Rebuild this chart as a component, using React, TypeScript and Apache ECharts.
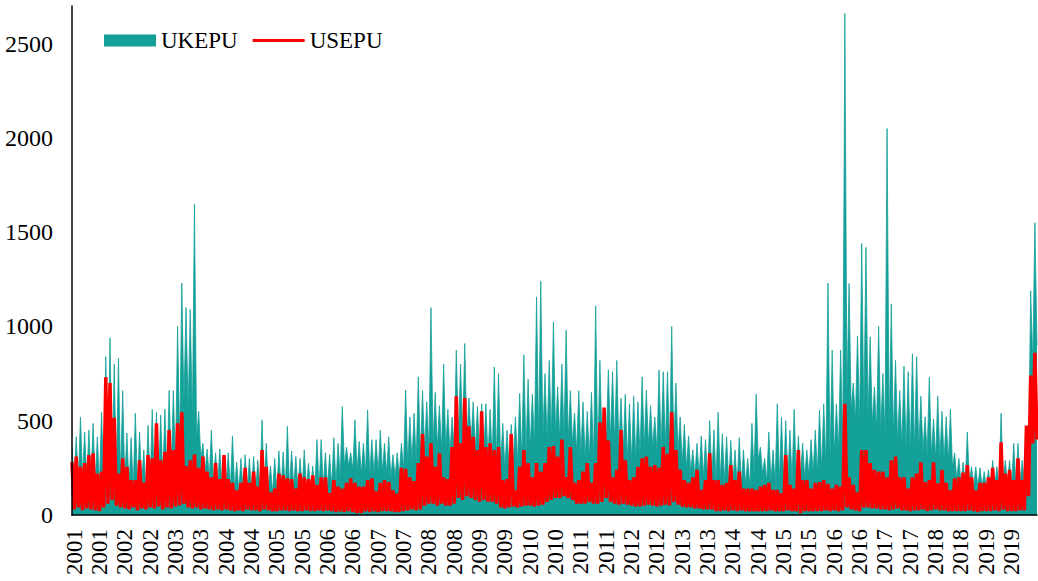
import { useEffect, useRef } from "react";
import * as echarts from "echarts";

// Axis tick labels (one per half-year block)
const halfYearLabels = [
  "2001", "2001", "2002", "2002", "2003", "2003", "2004", "2004", "2005", "2005",
  "2006", "2006", "2007", "2007", "2008", "2008", "2009", "2009", "2010", "2010",
  "2011", "2011", "2012", "2012", "2013", "2013", "2014", "2014", "2015", "2015",
  "2016", "2016", "2017", "2017", "2018", "2018", "2019", "2019",
];

// UKEPU: per time slot, the spike high and the trough low
const ukHigh = [
  360, 415, 520, 440, 450, 486, 415, 545, 840, 940, 800, 830, 660, 435, 410, 540, 440, 345, 475, 560, 545, 530, 560, 660, 660, 1000,
  1230, 1100, 1090, 1650, 550, 380, 350, 450, 330, 350, 300, 330, 420, 280, 300, 320, 300, 310, 290, 505, 380, 260, 300, 340, 335,
  470, 340, 310, 300, 345, 275, 260, 400, 400, 330, 320, 410, 380, 575, 360, 330, 505, 390, 380, 557, 400, 400, 450, 380, 415,
  320, 330, 380, 663, 520, 540, 733, 660, 600, 1100, 650, 580, 800, 560, 520, 875, 800, 910, 620, 600, 575, 590, 590, 560, 785,
  750, 486, 450, 480, 520, 645, 850, 720, 640, 1157, 1240, 750, 820, 1025, 680, 800, 980, 660, 540, 660, 600, 550, 650, 1110, 820,
  560, 770, 760, 820, 620, 640, 590, 630, 600, 733, 660, 580, 520, 770, 760, 760, 1000, 700, 520, 480, 420, 345, 380, 420, 400,
  500, 450, 545, 430, 415, 395, 345, 410, 345, 300, 486, 640, 360, 300, 440, 345, 590, 520, 500, 450, 560, 420, 380, 345, 400,
  450, 557, 590, 1230, 875, 590, 875, 2660, 1228, 700, 950, 1440, 1420, 945, 680, 1000, 750, 2050, 1120, 820, 660, 790, 760, 855, 840,
  630, 521, 730, 510, 630, 550, 521, 560, 330, 300, 280, 440, 256, 256, 250, 230, 240, 290, 256, 540, 290, 290, 380, 380, 290, 420, 1190, 1550,
];
const ukLow = [
  180, 160, 200, 180, 180, 170, 160, 180, 210, 230, 210, 200, 180, 150, 140, 150, 160, 130, 160, 150, 180, 200, 210, 230, 260, 380,
  600, 560, 500, 400, 300, 220, 190, 180, 160, 150, 150, 140, 140, 125, 130, 130, 125, 130, 125, 140, 140, 115, 125, 130, 130,
  140, 150, 140, 140, 140, 130, 130, 140, 150, 150, 150, 160, 200, 260, 260, 240, 230, 220, 220, 210, 220, 220, 230, 220, 200,
  200, 210, 240, 270, 280, 280, 300, 340, 350, 380, 360, 340, 350, 330, 340, 400, 420, 400, 380, 340, 320, 300, 300, 290, 300,
  270, 250, 250, 270, 280, 300, 330, 350, 370, 400, 420, 400, 420, 430, 400, 410, 400, 380, 340, 320, 300, 300, 290, 300, 380,
  380, 400, 380, 360, 320, 290, 280, 290, 320, 360, 370, 360, 340, 350, 360, 350, 370, 340, 280, 250, 230, 210, 200, 200, 190,
  200, 180, 190, 180, 170, 170, 160, 160, 160, 150, 220, 290, 220, 180, 180, 170, 180, 180, 190, 180, 190, 200, 200, 210, 220,
  220, 240, 260, 300, 320, 340, 380, 650, 560, 500, 480, 520, 520, 480, 450, 440, 420, 440, 420, 390, 360, 350, 340, 340, 350,
  340, 320, 320, 300, 300, 290, 280, 250, 190, 170, 160, 170, 150, 150, 150, 140, 140, 150, 150, 170, 160, 160, 160, 170, 170, 300, 800, 900,
];

// USEPU: per time slot, the high and the low
const usHigh = [
  280, 310, 255, 275, 318, 327, 220, 230, 730, 700, 515, 220, 300, 255, 185, 185, 290, 170, 318, 300, 486, 290, 335, 450, 345, 486,
  545, 260, 290, 320, 250, 310, 230, 200, 275, 190, 318, 190, 170, 130, 170, 250, 170, 230, 150, 345, 255, 120, 140, 220, 210,
  195, 190, 140, 220, 200, 190, 210, 160, 200, 200, 115, 185, 150, 140, 170, 195, 170, 150, 150, 185, 195, 125, 170, 185, 175,
  130, 115, 250, 245, 200, 180, 275, 430, 310, 380, 255, 327, 200, 190, 360, 630, 380, 620, 470, 415, 345, 550, 360, 380, 345,
  360, 185, 190, 430, 130, 255, 345, 275, 200, 275, 230, 275, 360, 365, 310, 400, 200, 360, 170, 185, 230, 275, 170, 275, 490,
  570, 395, 200, 240, 450, 290, 185, 200, 255, 300, 310, 255, 265, 250, 360, 325, 545, 345, 240, 185, 170, 200, 240, 133, 185,
  327, 185, 185, 160, 170, 265, 185, 230, 140, 140, 140, 133, 150, 160, 170, 133, 133, 115, 318, 160, 140, 345, 185, 185, 140,
  170, 175, 185, 165, 140, 160, 150, 590, 200, 160, 120, 345, 345, 275, 240, 230, 230, 200, 290, 310, 200, 200, 140, 200, 220,
  280, 175, 185, 280, 168, 240, 170, 130, 195, 200, 225, 265, 200, 130, 170, 170, 200, 250, 185, 385, 220, 240, 185, 300, 185, 475, 740, 860,
];
const usLow = [
  30, 40, 25, 35, 30, 25, 20, 40, 60, 80, 50, 40, 35, 30, 40, 25, 35, 30, 40, 35, 45, 30, 40, 35, 45, 50,
  60, 40, 35, 40, 30, 35, 30, 25, 30, 25, 30, 25, 20, 25, 20, 30, 25, 25, 20, 30, 25, 20, 20, 25, 25,
  20, 25, 20, 20, 25, 20, 20, 25, 20, 25, 20, 15, 20, 15, 20, 15, 10, 10, 20, 15, 20, 15, 20, 20, 20,
  15, 15, 20, 25, 30, 25, 30, 50, 60, 60, 50, 60, 50, 50, 60, 90, 80, 100, 90, 80, 70, 80, 70, 70, 60,
  40, 35, 40, 45, 40, 45, 50, 50, 45, 50, 55, 70, 80, 90, 90, 100, 90, 80, 60, 60, 60, 70, 60, 60, 70,
  90, 70, 60, 55, 60, 55, 50, 45, 45, 50, 55, 50, 45, 50, 55, 50, 70, 55, 45, 40, 40, 35, 35, 30, 30,
  30, 20, 20, 25, 20, 25, 20, 25, 20, 20, 20, 20, 20, 20, 25, 20, 20, 20, 25, 20, 20, 10, 20, 20, 20,
  20, 20, 25, 20, 25, 20, 25, 40, 30, 25, 20, 40, 40, 35, 35, 30, 30, 25, 30, 35, 25, 25, 20, 25, 25,
  30, 20, 25, 30, 25, 25, 20, 20, 20, 20, 20, 25, 20, 15, 20, 20, 20, 25, 20, 30, 20, 20, 20, 25, 25, 100, 380, 400,
];

const TEAL = "#13A098";
const RED = "#FF0000";
const FONT = "'Liberation Serif', 'Times New Roman', serif";

const ukEpu = ukHigh.flatMap((h, i) => [h, ukLow[i]]);
const usEpu = usHigh.flatMap((h, i) => [h, usLow[i]]);
const categories = ukEpu.map((_, i) => halfYearLabels[Math.floor((i - 1) / 12)] ?? "");

export default function App() {
  const ref = useRef<HTMLDivElement>(null);

  useEffect(() => {
    document.body.style.margin = "0";
    if (!ref.current) return;
    const chart = echarts.init(ref.current, undefined, { renderer: "svg" });
    chart.setOption({
      animation: false,
      textStyle: { fontFamily: FONT },
      grid: { left: 72, right: 1, top: 6, bottom: 66, containLabel: false },
      legend: {
        left: 104,
        top: 29,
        padding: 0,
        itemWidth: 52,
        itemHeight: 12,
        itemGap: 15,
        textStyle: { fontFamily: FONT, fontSize: 23, color: "#000" },
        data: [
          { name: "UKEPU", icon: "rect" },
          { name: "USEPU", icon: "path://M0,0M52,12M0,4.5L52,4.5L52,7.5L0,7.5Z" },
        ],
      },
      xAxis: {
        type: "category",
        boundaryGap: false,
        data: categories,
        z: 5,
        axisLine: { lineStyle: { color: "#000", width: 1.5 } },
        axisTick: { show: false },
        splitLine: { show: false },
        axisLabel: {
          interval: (i: number) => i % 12 === 1,
          rotate: 90,
          margin: 14,
          fontSize: 23,
          color: "#000",
          fontFamily: FONT,
        },
      },
      yAxis: {
        type: "value",
        min: 0,
        max: 2700,
        interval: 500,
        z: 5,
        axisLine: { show: true, lineStyle: { color: "#000", width: 1.5 } },
        axisTick: { show: false },
        splitLine: { show: false },
        axisLabel: {
          margin: 19,
          fontSize: 24,
          color: "#000",
          fontFamily: FONT,
          formatter: (v: number) => (v % 500 === 0 ? String(v) : ""),
        },
      },
      series: [
        {
          name: "UKEPU",
          type: "line",
          data: ukEpu,
          symbol: "none",
          color: TEAL,
          lineStyle: { width: 0.8, color: TEAL },
          areaStyle: { color: TEAL, opacity: 1 },
          z: 2,
        },
        {
          name: "USEPU",
          type: "line",
          data: usEpu,
          symbol: "none",
          color: RED,
          lineStyle: { width: 3.5, color: RED, join: "bevel" },
          z: 3,
        },
      ],
    });
    return () => chart.dispose();
  }, []);

  return <div ref={ref} style={{ width: 1038, height: 581 }} />;
}
